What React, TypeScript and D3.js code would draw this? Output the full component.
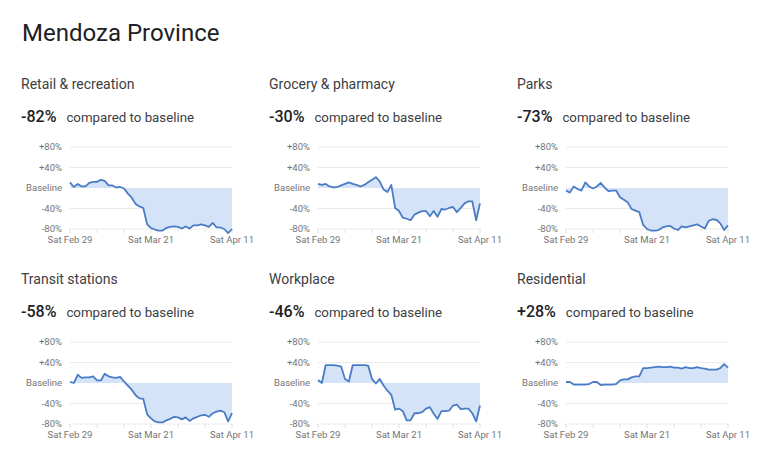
import * as d3 from "d3"
import React from "react"

// daily values, Sat Feb 29 .. Sat Apr 11 2020 (43 days), % vs baseline
const retail = [11, 2, 8, 3, 3, 10, 12, 12, 16, 14, 5, 5, 1, 2, -1, -11, -19, -31, -36, -39, -71, -78, -81, -83, -83, -78, -76, -75, -76, -79, -75, -79, -73, -73, -71, -73, -76, -68, -77, -77, -80, -88, -80]
const grocery = [8, 6, 8, 3, 1, 2, 5, 8, 11, 8, 6, 3, 6, 11, 16, 21, 13, -3, -8, 6, -39, -45, -58, -60, -63, -52, -48, -45, -45, -55, -45, -56, -41, -42, -39, -37, -47, -39, -30, -26, -26, -63, -30]
const parks = [-5, -9, 3, -2, -5, 11, 3, -1, 3, 10, 1, -6, -5, -5, -18, -23, -28, -41, -44, -47, -72, -80, -83, -83, -82, -77, -75, -74, -79, -82, -75, -77, -75, -73, -71, -75, -79, -64, -61, -62, -69, -82, -73]
const transit = [2, 0, 16, 10, 11, 11, 13, 5, 5, 18, 13, 11, 10, 12, 3, -5, -13, -24, -30, -31, -61, -69, -75, -77, -77, -73, -70, -66, -67, -71, -67, -74, -69, -66, -63, -62, -66, -59, -56, -54, -57, -75, -59]
const workplace = [6, 0, 35, 35, 35, 34, 32, 8, 3, 35, 35, 35, 35, 34, 8, -1, 8, -5, -15, -23, -52, -50, -55, -73, -73, -59, -59, -57, -50, -47, -60, -70, -55, -55, -54, -44, -42, -51, -50, -50, -59, -75, -44]
const residential = [2, 2, -3, -3, -3, -3, -2, 2, 2, -4, -3, -3, -3, -2, 5, 7, 7, 11, 13, 13, 29, 29, 30, 31, 32, 31, 31, 32, 30, 30, 28, 31, 29, 29, 31, 29, 28, 26, 26, 26, 29, 37, 30]

const categories = ["Retail & recreation", "Grocery & pharmacy", "Parks", "Transit stations", "Workplace", "Residential"]
const headline = ["-82%", "-30%", "-73%", "-58%", "-46%", "+28%"]
const series = [retail, grocery, parks, transit, workplace, residential]
const yTicks = [80, 40, 0, -40, -80]
const yTickLabels = ["+80%", "+40%", "Baseline", "-40%", "-80%"]
const xLabelDates = ["2020-02-29", "2020-03-21", "2020-04-11"]
const xLabels = ["Sat Feb 29", "Sat Mar 21", "Sat Apr 11"]

const start = new Date(2020, 1, 29)
const end = new Date(2020, 3, 11)
const days = d3.timeDay.range(start, d3.timeDay.offset(end, 1))

const font = "Roboto, 'Open Sans', sans-serif"
const plotW = 162
const plotH = 82

const Panel = ({ title, value, data, left, top }) => {
  const x = d3.scaleTime().domain([start, end]).range([0, plotW])
  const y = d3.scaleLinear().domain([-80, 80]).range([plotH, 0])
  const pts = data.map((v, i) => ({ d: days[i], v }))
  const line = d3.line().x((p) => x(p.d)).y((p) => y(p.v))
  const area = d3.area().x((p) => x(p.d)).y0(y(0)).y1((p) => y(p.v))
  const weekTicks = d3.timeSaturday.range(start, d3.timeDay.offset(end, 1))
  const parse = d3.timeParse("%Y-%m-%d")

  return (
    <g transform={`translate(${left},${top})`}>
      <text x={-49} y={-58} fontSize={14} fill="#3c4043" fontFamily={font}>
        {title}
      </text>
      <text x={-49} y={-25} fontSize={16} fontWeight={500} fill="#202124" fontFamily={font}>
        {value}
        <tspan dx={10} fontSize={13.3} fontWeight={400} fill="#3c4043">
          compared to baseline
        </tspan>
      </text>
      {yTicks.map((t, i) => (
        <g key={t}>
          {t !== 0 && <line x1={0} x2={plotW} y1={y(t)} y2={y(t)} stroke="#ebebeb" />}
          <text
            x={-8}
            y={y(t)}
            dy="0.35em"
            textAnchor="end"
            fontSize={9.5}
            fill="#757575"
            fontFamily={font}
          >
            {yTickLabels[i]}
          </text>
        </g>
      ))}
      {weekTicks.map((d) => (
        <line key={+d} x1={x(d)} x2={x(d)} y1={plotH} y2={plotH + 4} stroke="#e0e0e0" />
      ))}
      <path d={area(pts)} fill="#d5e3f8" />
      <path d={line(pts)} fill="none" stroke="#4a7cc6" strokeWidth={1.8} strokeLinejoin="round" />
      {xLabelDates.map((s, i) => (
        <text
          key={s}
          x={x(parse(s))}
          y={plotH + 14}
          textAnchor="middle"
          fontSize={9.5}
          fill="#757575"
          fontFamily={font}
        >
          {xLabels[i]}
        </text>
      ))}
    </g>
  )
}

const colLeft = [70, 318, 566]
const rowTop = [147, 342]

export default function App() {
  return (
    <svg width={760} height={464} style={{ display: "block" }}>
      <rect width={760} height={464} fill="#fff" />
      <text x={14} y={33} fontSize={24} fill="#202124" fontFamily={font}>
        Mendoza Province
      </text>
      {series.map((s, i) => (
        <Panel
          key={categories[i]}
          title={categories[i]}
          value={headline[i]}
          data={s}
          left={colLeft[i % 3] - 8}
          top={rowTop[Math.floor(i / 3)] - 8}
        />
      ))}
    </svg>
  )
}
